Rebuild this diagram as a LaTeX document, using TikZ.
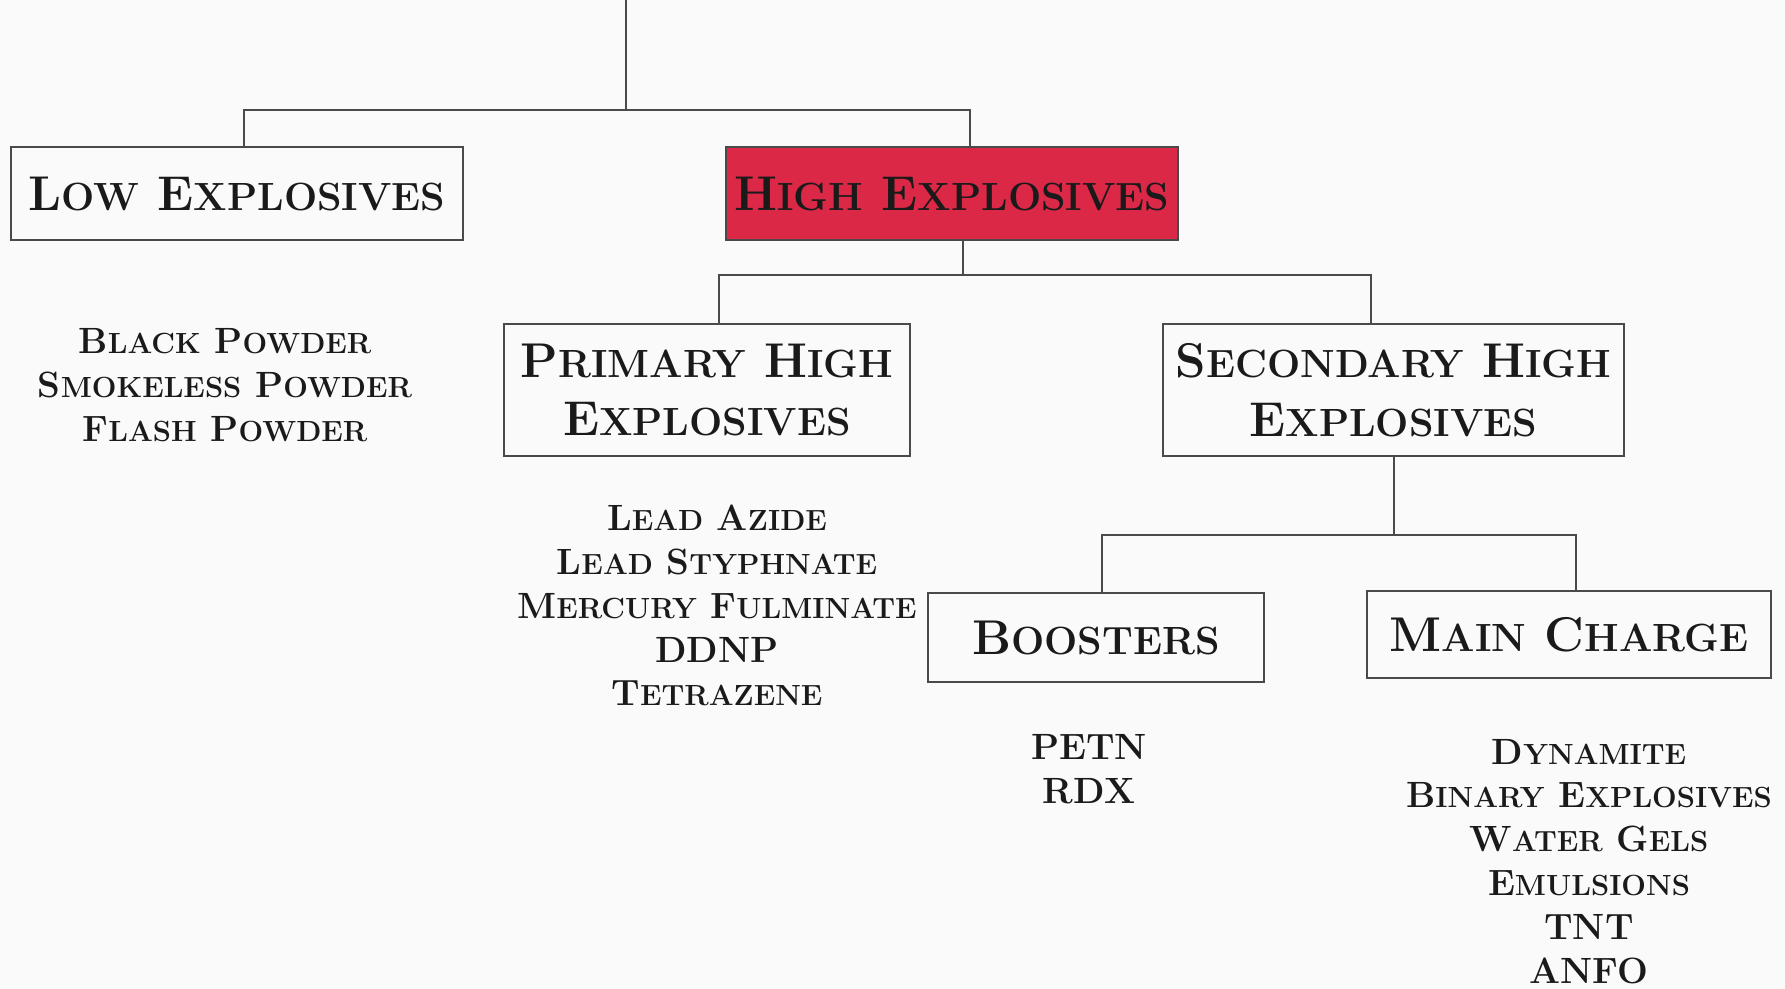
\documentclass[tikz,border=0pt]{standalone}
\usepackage{fontspec}
\usetikzlibrary{positioning}
\definecolor{crimson}{HTML}{DC2847}
\definecolor{inkgray}{HTML}{4A4A4A}
\definecolor{textblack}{HTML}{1A1A1A}
% fake small caps: capital letter, then the rest set smaller
\newcommand{\hsc}[2]{#1{\fontsize{22.4}{33.5}\selectfont #2}}
\newcommand{\lsc}[2]{#1{\fontsize{16.6}{25}\selectfont #2}}
\begin{document}
\begin{tikzpicture}
[ x=0.02cm, y=-0.02cm
, point/.style={coordinate}
, class/.style={rectangle, draw=inkgray, line width=1.2pt, inner sep=0pt, text=textblack, align=center, font=\bfseries\fontsize{27.8}{33.5}\selectfont}
, hot/.style={class, fill=crimson}
, members/.style={inner sep=0pt, text=textblack, align=center, font=\bfseries\fontsize{20.8}{25}\selectfont}
, link/.style={draw=inkgray, line width=1.1pt}
]
\fill [white!98!black] (0,0) rectangle (1785,989);
\useasboundingbox (0,0) rectangle (1785,989);
% First level:
\node (low)  [class, minimum width=9.04cm, minimum height=1.86cm] at (237,193.5) {\hsc{L}{OW} \hsc{E}{XPLOSIVES}};
\node (high) [hot,   minimum width=9.04cm, minimum height=1.86cm] at (952,193.5) {\hsc{H}{IGH} \hsc{E}{XPLOSIVES}};
% Second level:
\node (primary)   [class, minimum width=8.12cm, minimum height=2.64cm] at (707,390) {\hsc{P}{RIMARY} \hsc{H}{IGH}\\\hsc{E}{XPLOSIVES}};
\node (secondary) [class, minimum width=9.22cm, minimum height=2.64cm] at (1393.5,390) {\hsc{S}{ECONDARY} \hsc{H}{IGH}\\\hsc{E}{XPLOSIVES}};
% Third level:
\node (boosters) [class, minimum width=6.72cm, minimum height=1.78cm] at (1096,637.5) {\hsc{B}{OOSTERS}};
\node (main)     [class, minimum width=8.08cm, minimum height=1.74cm] at (1569,634.5) {\hsc{M}{AIN} \hsc{C}{HARGE}};
% Examples under each class:
\node (lowlist) [members] at (225,385) {\lsc{B}{LACK} \lsc{P}{OWDER}\\\lsc{S}{MOKELESS} \lsc{P}{OWDER}\\\lsc{F}{LASH} \lsc{P}{OWDER}};
\node (primlist) [members] at (717,605.5) {\lsc{L}{EAD} \lsc{A}{ZIDE}\\\lsc{L}{EAD} \lsc{S}{TYPHNATE}\\\lsc{M}{ERCURY} \lsc{F}{ULMINATE}\\DDNP\\\lsc{T}{ETRAZENE}};
\node (boostlist) [members] at (1089,769.5) {PETN\\RDX};
\node (mainlist) [members] at (1589,861.5) {\lsc{D}{YNAMITE}\\\lsc{B}{INARY} \lsc{E}{XPLOSIVES}\\\lsc{W}{ATER} \lsc{G}{ELS}\\\lsc{E}{MULSIONS}\\TNT\\ANFO};
% Connectors:
\node (root) [point] at (626,0) {};
\draw [link] (root) -- ++(0,110) coordinate (hub1);
\draw [link] ([xshift=0.14cm]low.north) |- (hub1) -| ([xshift=0.36cm]high.north);
\draw [link] ([xshift=0.22cm]high.south) -- ++(0,34) coordinate (hub2);
\draw [link] ([xshift=0.24cm]primary.north) |- (hub2) -| ([xshift=-0.45cm]secondary.north);
\draw [link] ([xshift=0.01cm]secondary.south) -- ++(0,78) coordinate (hub3);
\draw [link] ([xshift=0.12cm]boosters.north) |- (hub3) -| ([xshift=0.14cm]main.north);
\end{tikzpicture}
\end{document}
